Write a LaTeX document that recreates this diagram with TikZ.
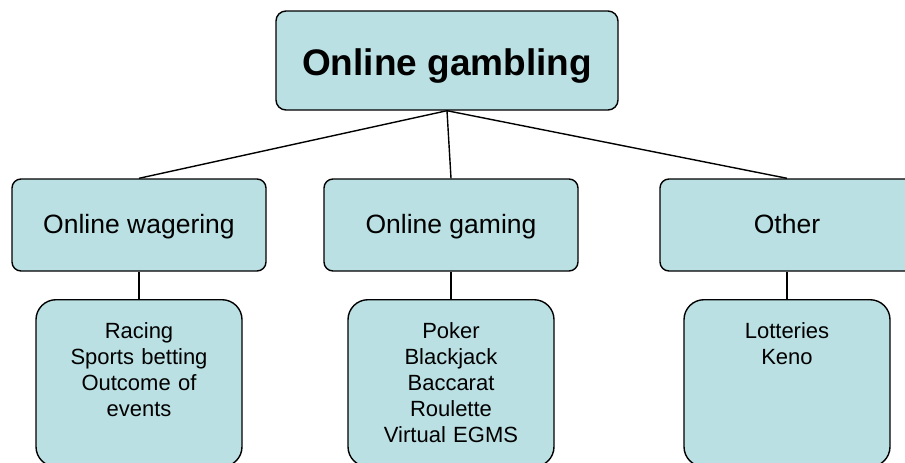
\documentclass[tikz,border=0pt]{standalone}
\usepackage{fontspec}
\setmainfont{Liberation Sans}
\usepackage{tikz}
\usetikzlibrary{positioning}
\definecolor{boxteal}{RGB}{186,224,227}

\begin{document}
\begin{tikzpicture}[x=1pt, y=-1pt,
    rootbox/.style={rectangle, draw=black, fill=boxteal, line width=1.4pt, rounded corners=10pt,
                minimum width=342pt, minimum height=99pt, text height=29pt, text depth=0pt,
                font=\fontsize{37}{44}\selectfont\bfseries},
    groupbox/.style={rectangle, draw=black, fill=boxteal, line width=1.4pt, rounded corners=9pt,
                minimum width=254pt, minimum height=92pt, text height=19pt, text depth=3pt,
                font=\fontsize{26.5}{30}\selectfont},
    itembox/.style={rectangle, draw=black, fill=boxteal, line width=1.4pt, rounded corners=20pt,
                inner sep=0pt, text width=206pt, align=center, text height=39pt, text depth=128pt,
                font=\fontsize{22}{26}\selectfont},
    link/.style={line width=1.4pt, black}]
    \useasboundingbox (0,0) rectangle (905,463);
    \node[rootbox] (gambling) at (447,60.5) {Online gambling};
    \node[groupbox] (wagering) at (139,225) {Online wagering};
    \node[groupbox] (gaming) at (451,225) {Online gaming};
    \node[groupbox] (other) at (787,225) {Other};
    \node[itembox, anchor=north] (wagerlist) at (139,299) {Racing\\Sports betting\\Outcome of\\events};
    \node[itembox, anchor=north] (gamelist) at (451,299) {Poker\\Blackjack\\Baccarat\\Roulette\\Virtual EGMS};
    \node[itembox, anchor=north] (otherlist) at (787,299) {Lotteries\\Keno};
    \draw[link] (gambling.south) -- (wagering.north);
    \draw[link] (gambling.south) -- (gaming.north);
    \draw[link] (gambling.south) -- (other.north);
    \draw[link] (wagering) -- (wagerlist); \draw[link] (gaming) -- (gamelist); \draw[link] (other) -- (otherlist);
\end{tikzpicture}
\end{document}
